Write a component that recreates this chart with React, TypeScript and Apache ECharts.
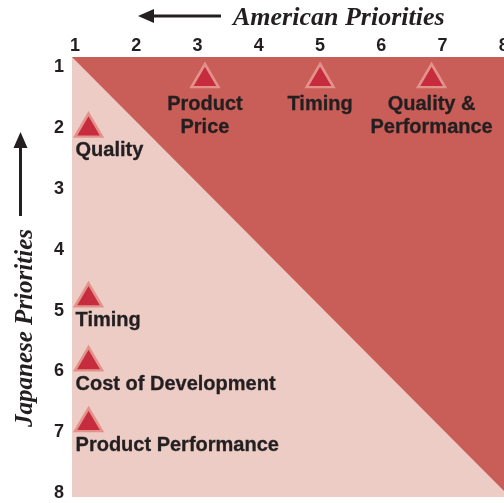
import React, { useEffect, useRef } from "react";
import * as echarts from "echarts";

// Tick labels
const xTicks = [1, 2, 3, 4, 5, 6, 7, 8];
const yTicks = [1, 2, 3, 4, 5, 6, 7, 8];

// American priorities (top row)
const americanLabels = ["Product\nPrice", "Timing", "Quality &\nPerformance"];
const americanX = [3.12, 5.0, 6.82];
const americanY = [1.156, 1.156, 1.156];

// Japanese priorities (left column)
const japaneseLabels = ["Quality", "Timing", "Cost of Development", "Product Performance"];
const japaneseX = [1.22, 1.22, 1.22, 1.22];
const japaneseY = [1.97, 4.76, 5.81, 6.81];

// Shaded region (upper-right triangle) corners in data units
const darkRegion: [number, number][] = [
  [0.95, 0.85],
  [8.1, 0.85],
  [8.1, 8.08],
];

const TEXT = "#231f20";

export default function App() {
  const ref = useRef<HTMLDivElement>(null);
  useEffect(() => {
    if (!ref.current) return;
    const chart = echarts.init(ref.current, undefined, { renderer: "svg" });
    const labelStyle = {
      fontFamily: "Liberation Sans, Arial, sans-serif",
      fontWeight: "bold" as const,
      fontSize: 20,
      lineHeight: 23,
      color: TEXT,
      textBorderColor: TEXT,
      textBorderWidth: 0.3,
    };
    const markerStyle = {
      color: "#c62b3e",
      borderColor: "#e3928a",
      borderWidth: 2.5,
      opacity: 1,
    };
    chart.setOption({
      animation: false,
      grid: {
        left: 72,
        top: 57,
        right: 2,
        bottom: 6,
        show: true,
        backgroundColor: "#ecccc5",
        borderWidth: 0,
      },
      xAxis: {
        type: "value",
        position: "top",
        min: 0.95,
        max: 8.1,
        axisLine: { show: false },
        axisTick: { show: false },
        splitLine: { show: false },
        axisLabel: {
          customValues: xTicks,
          fontFamily: "Liberation Sans, Arial, sans-serif",
          fontWeight: "bold",
          fontSize: 18,
          color: TEXT,
          margin: 3,
        },
      },
      yAxis: {
        type: "value",
        inverse: true,
        min: 0.85,
        max: 8.08,
        axisLine: { show: false },
        axisTick: { show: false },
        splitLine: { show: false },
        axisLabel: {
          customValues: yTicks,
          fontFamily: "Liberation Sans, Arial, sans-serif",
          fontWeight: "bold",
          fontSize: 18,
          color: TEXT,
          margin: 8,
        },
      },
      series: [
        {
          type: "custom",
          silent: true,
          clip: false,
          data: [0],
          renderItem: (_params: any, api: any) => {
            const pts = darkRegion.map((p) => api.coord(p));
            return {
              type: "polygon",
              shape: { points: pts },
              style: { fill: "#c95d57" },
            };
          },
          z: 1,
        },
        {
          type: "scatter",
          name: "American",
          symbol: "triangle",
          symbolSize: [27, 23],
          itemStyle: markerStyle,
          data: americanX.map((x, i) => [x, americanY[i], americanLabels[i]]),
          label: {
            show: true,
            position: "bottom",
            distance: 3,
            align: "center",
            formatter: (p: any) => p.data[2],
            ...labelStyle,
          },
          z: 3,
        },
        {
          type: "scatter",
          name: "Japanese",
          symbol: "triangle",
          symbolSize: [27, 23],
          itemStyle: markerStyle,
          data: japaneseX.map((x, i) => [x, japaneseY[i], japaneseLabels[i]]),
          label: {
            show: true,
            position: "bottom",
            distance: 0,
            align: "left",
            offset: [-13, 0],
            formatter: (p: any) => p.data[2],
            ...labelStyle,
          },
          z: 3,
        },
      ],
      graphic: [
        {
          type: "text",
          left: 233,
          top: 3,
          style: {
            text: "American Priorities",
            fontFamily: "Liberation Serif, Times New Roman, serif",
            fontStyle: "italic",
            fontWeight: "bold",
            fontSize: 26,
            fill: TEXT,
          },
        },
        {
          type: "line",
          shape: { x1: 150, y1: 16, x2: 221, y2: 16 },
          style: { stroke: TEXT, lineWidth: 3 },
        },
        {
          type: "polygon",
          shape: { points: [[138, 16], [154, 9], [154, 23]] },
          style: { fill: TEXT },
        },
        {
          type: "text",
          x: 23,
          y: 328,
          rotation: Math.PI / 2,
          style: {
            text: "Japanese Priorities",
            align: "center",
            verticalAlign: "middle",
            fontFamily: "Liberation Serif, Times New Roman, serif",
            fontStyle: "italic",
            fontWeight: "bold",
            fontSize: 25,
            fill: TEXT,
          },
        },
        {
          type: "line",
          shape: { x1: 20.5, y1: 144, x2: 20.5, y2: 216 },
          style: { stroke: TEXT, lineWidth: 3 },
        },
        {
          type: "polygon",
          shape: { points: [[20.5, 132], [13.5, 148], [27.5, 148]] },
          style: { fill: TEXT },
        },
      ],
    });
    return () => chart.dispose();
  }, []);
  return (
    <div
      ref={ref}
      style={{ position: "fixed", left: 0, top: 0, width: 512, height: 503 }}
    />
  );
}
